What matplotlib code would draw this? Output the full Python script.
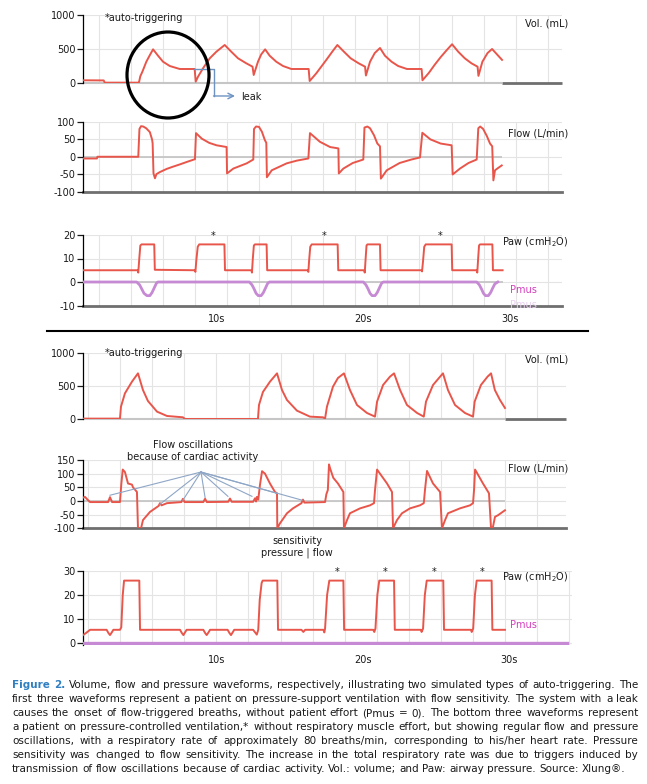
import numpy as np
import matplotlib.pyplot as plt
from matplotlib.patches import Ellipse
from matplotlib.lines import Line2D

plt.rcParams["font.family"] = ["DejaVu Sans"]
plt.rcParams["axes.unicode_minus"] = False

W, H = 647, 784
# time axis: pixel where t = 0 would sit, pixels per second
T0_PX, PX_PER_S = 70.0, 14.65

# ---------------- data (t in s, value) ----------------
# top group: pressure support, leak -> auto-triggering
vol_a = [
    (0.89, 40), (2.30, 38), (2.37, 5), (4.68, 5),
    (4.71, 10), (4.80, 100), (4.94, 166), (5.21, 313), (5.45, 410), (5.67, 495),
    (6.01, 401), (6.35, 313), (6.81, 250), (7.49, 206), (8.51, 206),
    (8.58, 20), (8.74, 93), (9.08, 216), (9.54, 363), (9.99, 460), (10.56, 559),
    (11.01, 460), (11.47, 363), (12.03, 290), (12.46, 240),
    (12.54, 118), (12.83, 313), (13.05, 420), (13.32, 495),
    (13.63, 401), (14.08, 313), (14.54, 250), (15.11, 206), (16.29, 206),
    (16.36, 29), (16.81, 142), (17.49, 338), (17.90, 460), (18.25, 559),
    (18.70, 460), (19.16, 363), (19.70, 290), (20.14, 240),
    (20.20, 110), (20.48, 313), (20.80, 440), (21.16, 515),
    (21.50, 401), (21.95, 313), (22.40, 250), (23.00, 206), (24.00, 206),
    (24.06, 40), (24.50, 150), (24.90, 270), (25.30, 380), (25.70, 480), (26.08, 570),
    (26.50, 460), (26.95, 363), (27.40, 290), (27.82, 240),
    (27.88, 105), (28.15, 313), (28.50, 440), (28.81, 500),
    (29.15, 420), (29.49, 340),
]
flow_a = [
    (0.89, -5), (1.84, -5), (1.87, 0), (4.66, 0),
    (4.74, 80), (4.85, 88), (5.00, 87), (5.20, 82), (5.45, 71), (5.60, 50), (5.64, 39),
    (5.70, -48), (5.80, -62), (5.90, -50), (6.14, -44), (6.60, -35), (7.00, -29),
    (7.50, -22), (7.97, -15), (8.53, -7),
    (8.60, 68), (9.00, 52), (9.50, 40), (10.00, 33), (10.69, 28),
    (10.72, -48), (11.15, -34), (12.06, -19), (12.51, -8),
    (12.56, 80), (12.70, 87), (12.90, 86), (13.10, 72), (13.30, 48), (13.40, 40),
    (13.44, -59), (13.77, -39), (14.79, -19), (15.50, -11), (16.27, -5),
    (16.38, 68), (17.06, 43), (17.75, 28), (18.32, 24),
    (18.35, -48), (18.66, -34), (19.30, -18), (20.02, -8),
    (20.10, 84), (20.30, 87), (20.48, 82), (20.75, 62), (20.98, 38), (21.16, 30),
    (21.22, -63), (21.62, -39), (22.50, -18), (23.30, -8), (23.89, -2),
    (24.05, 69), (24.60, 50), (25.30, 38), (26.05, 33),
    (26.12, -51), (26.62, -34), (27.20, -18), (27.76, -8),
    (27.87, 82), (28.00, 87), (28.20, 80), (28.45, 60), (28.67, 38), (28.82, 30),
    (28.90, -68), (29.01, -39), (29.20, -33), (29.47, -25),
]
paw_a = [
    (0.89, 5), (4.62, 5), (4.66, 4), (4.73, 10), (4.80, 15.5), (4.88, 16), (5.75, 16), (5.79, 5.2),
    (8.52, 5), (8.56, 4.3), (8.62, 9), (8.72, 15), (8.82, 16), (10.54, 16), (10.58, 5),
    (12.38, 5), (12.42, 4), (12.48, 10), (12.55, 15.5), (12.62, 16), (13.42, 16), (13.46, 5),
    (16.22, 5), (16.27, 4.3), (16.32, 9), (16.40, 15), (16.50, 16), (18.27, 16), (18.31, 5),
    (20.08, 5), (20.12, 4), (20.18, 10), (20.24, 15.5), (20.30, 16), (21.16, 16), (21.20, 5),
    (24.00, 5), (24.03, 4.5), (24.10, 9), (24.18, 15), (24.28, 16), (26.05, 16), (26.09, 5),
    (27.76, 5), (27.80, 4), (27.86, 10), (27.92, 15.5), (27.98, 16), (28.83, 16), (28.87, 5),
    (29.53, 5),
]
pmus_a = [
    (0.89, 0), (4.55, 0), (4.75, -1.2), (4.90, -3), (5.05, -4.8), (5.25, -5.8), (5.45, -5.8),
    (5.60, -4.5), (5.75, -2.5), (5.90, -0.5), (6.00, 0),
    (12.24, 0), (12.42, -1.2), (12.57, -3), (12.70, -4.8), (12.85, -5.8), (13.05, -5.8),
    (13.20, -4.5), (13.35, -2.5), (13.50, -0.5), (13.62, 0),
    (20.02, 0), (20.20, -1.2), (20.35, -3), (20.48, -4.8), (20.62, -5.8), (20.82, -5.8),
    (20.97, -4.5), (21.12, -2.5), (21.27, -0.5), (21.39, 0),
    (27.76, 0), (27.94, -1.2), (28.09, -3), (28.22, -4.8), (28.36, -5.8), (28.56, -5.8),
    (28.71, -4.5), (28.86, -2.5), (29.00, -0.8), (29.20, 0),
]
auto_trig_a = [9.76, 17.34, 25.26]

# bottom group: pressure control, cardiac oscillations -> auto-triggering
vol_b = [
    (0.89, 10), (3.41, 10), (3.48, 190), (3.75, 390), (4.23, 565), (4.64, 690),
    (4.98, 440), (5.32, 275), (5.94, 115), (6.62, 50), (7.71, 30), (7.85, 5),
    (12.83, 5), (12.90, 215), (13.17, 410), (13.65, 565), (14.13, 690),
    (14.47, 440), (14.81, 290), (15.49, 130), (16.38, 40), (17.27, 30), (17.41, 10),
    (17.54, 190), (17.95, 490), (18.29, 620), (18.70, 690),
    (19.11, 440), (19.59, 215), (20.27, 95), (20.82, 40),
    (20.96, 265), (21.37, 515), (21.84, 640), (22.12, 690),
    (22.53, 440), (23.00, 215), (23.69, 95), (24.15, 40),
    (24.30, 265), (24.78, 515), (25.26, 640), (25.46, 690),
    (25.80, 440), (26.28, 215), (26.96, 95), (27.51, 40),
    (27.62, 265), (28.05, 515), (28.50, 640), (28.74, 690),
    (29.00, 440), (29.35, 290), (29.69, 170),
]
flow_b = [
    (0.89, 12), (1.02, 15), (1.23, 3), (1.37, -4), (2.60, -4), (2.73, 14), (2.87, -4), (3.41, -4),
    (3.50, 60), (3.60, 115), (3.75, 106), (3.96, 64), (4.23, 60), (4.30, 50), (4.57, 33),
    (4.64, -100), (4.85, -100), (4.98, -70), (5.46, -40), (6.05, -18), (6.14, -8), (6.25, -16),
    (6.62, -8), (7.60, -4), (7.71, 8), (7.82, -4), (9.10, -4), (9.22, 8), (9.34, -4),
    (10.80, -3), (10.92, 9), (11.04, -3), (12.50, -3), (12.63, 10), (12.70, -2), (12.76, 15), (12.85, 5),
    (12.97, 60), (13.11, 109), (13.31, 100), (13.65, 64), (13.99, 33), (14.13, 28),
    (14.15, -100), (14.33, -82), (14.81, -45), (15.22, -27), (15.80, -8), (15.90, 5), (16.00, -6),
    (17.41, -4), (17.50, 25), (17.60, 40), (17.68, 134), (17.75, 120), (17.97, 85), (18.29, 64),
    (18.66, 33), (18.70, -100), (18.91, -70), (19.11, -45), (19.80, -27), (20.48, -16), (20.75, -8),
    (20.82, 40), (20.96, 115), (21.16, 100), (21.64, 64), (21.98, 33),
    (22.05, -100), (22.32, -70), (22.66, -45), (23.21, -27), (23.89, -16), (24.15, -8),
    (24.23, 40), (24.37, 110), (24.78, 64), (25.26, 33),
    (25.39, -100), (25.60, -70), (25.80, -45), (26.62, -27), (27.30, -16), (27.51, -8),
    (27.58, 40), (27.65, 115), (28.19, 64), (28.60, 28),
    (28.74, -100), (28.87, -95), (29.01, -58), (29.22, -52), (29.69, -34),
]
paw_b = [
    (0.89, 3.3), (1.10, 4.2), (1.37, 5.5), (2.50, 5.5), (2.62, 4.2), (2.73, 3.3), (2.85, 4.4),
    (2.96, 5.5), (3.41, 5.5), (3.50, 6.5), (3.60, 20), (3.69, 26), (4.73, 26), (4.78, 5.5),
    (7.51, 5.5), (7.63, 4.2), (7.74, 3.3), (7.85, 4.4), (7.96, 5.5),
    (9.10, 5.5), (9.22, 4.2), (9.33, 3.3), (9.45, 4.4), (9.56, 5.5),
    (10.76, 5.5), (10.88, 4.2), (10.99, 3.3), (11.10, 4.4), (11.21, 5.5),
    (12.50, 5.5), (12.65, 4.3), (12.75, 3.5), (12.85, 5.5), (12.95, 18), (13.08, 25), (13.15, 26),
    (14.15, 26), (14.20, 5.5),
    (15.80, 5.5), (15.93, 4.6), (16.05, 5.5),
    (17.30, 5.5), (17.36, 4.4), (17.41, 6), (17.55, 20), (17.70, 26), (18.66, 26), (18.71, 5.5),
    (20.70, 5.5), (20.77, 4.6), (20.85, 6), (20.98, 20), (21.11, 26), (22.12, 26), (22.17, 5.5),
    (23.95, 5.5), (24.00, 4.6), (24.10, 6), (24.22, 20), (24.35, 26), (25.48, 26), (25.53, 5.5),
    (27.37, 5.5), (27.42, 4.6), (27.52, 6), (27.64, 20), (27.76, 26), (28.78, 26), (28.83, 5.5),
    (29.69, 5.5),
]
pmus_b = [(0.89, 0), (33.9, 0)]
auto_trig_b = [18.23, 21.50, 24.85, 28.12]

# cardiac oscillation points the annotation fans out to (t, flow)
cardiac_pts = [(2.73, 21), (6.14, -12), (7.71, 3), (9.22, 13), (10.78, 17),
               (12.42, 17), (14.13, 28), (15.84, 3)]

yticks_vol = [0, 500, 1000]
yticks_flow_a = [-100, -50, 0, 50, 100]
yticks_flow_b = [-100, -50, 0, 50, 100, 150]
yticks_paw_a = [-10, 0, 10, 20]
yticks_paw_b = [0, 10, 20, 30]
time_ticks = [10, 20, 30]
time_labels = ["10s", "20s", "30s"]

caption_lines = [
    "Figure 2. Volume, flow and pressure waveforms, respectively, illustrating two simulated types of auto-triggering. The",
    "first three waveforms represent a patient on pressure-support ventilation with flow sensitivity. The system with a leak",
    "causes the onset of flow-triggered breaths, without patient effort (Pmus = 0). The bottom three waveforms represent",
    "a patient on pressure-controlled ventilation,* without respiratory muscle effort, but showing regular flow and pressure",
    "oscillations, with a respiratory rate of approximately 80 breaths/min, corresponding to his/her heart rate. Pressure",
    "sensitivity was changed to flow sensitivity. The increase in the total respiratory rate was due to triggers induced by",
    "transmission of flow oscillations because of cardiac activity. Vol.: volume; and Paw: airway pressure. Source: Xlung®.",
]

RED = "#e8564b"
PURPLE = "#c68ad4"
MAGENTA = "#d43ebd"
BLUE = "#6d93c2"
GRID = "#e4e4e4"
ZERO = "#c6c6c6"
DARK = "#6f6f6f"
TXT = "#1a1a1a"
FS = 7
CAP_FONT = ["DejaVu Sans Condensed", "DejaVu Sans"]


def t_of(x):
    return (x - T0_PX) / PX_PER_S


def fx(x):
    return x / W


def fy(y):
    return 1 - y / H


fig = plt.figure(figsize=(W / 100, H / 100), dpi=100)


def panel(left, top, right, bottom, ylim, yticks, grid_start):
    ax = fig.add_axes([fx(left), fy(bottom), (right - left) / W, (bottom - top) / H])
    ax.set_xlim(t_of(left), t_of(right))
    ax.set_ylim(*ylim)
    for s in ["top", "right", "bottom"]:
        ax.spines[s].set_visible(False)
    ax.spines["left"].set_linewidth(0.9)
    ax.set_yticks(yticks)
    ax.tick_params(axis="y", length=4, width=0.9, labelsize=FS, pad=1.5,
                   colors=TXT)
    ax.set_xticks([])
    ax.patch.set_alpha(0)
    for x in np.arange(grid_start, right, 32.1):
        ax.axvline(t_of(x), color=GRID, lw=0.8, zorder=0)
    for y in yticks:
        ax.axhline(y, color=GRID, lw=0.8, zorder=0)
    return ax


def trace(ax, pts, color=RED, lw=1.4, **kw):
    a = np.array(pts, dtype=float)
    ax.plot(a[:, 0], a[:, 1], color=color, lw=lw, solid_joinstyle="round", zorder=3, **kw)
    return a[-1, 0]


def base(ax, y, t_end, right_t):
    # light gray under the trace, dark gray where the trace has ended
    ax.hlines(y, ax.get_xlim()[0], t_end, color=ZERO, lw=1.5, zorder=1, clip_on=False)
    ax.hlines(y, t_end, right_t, color=DARK, lw=2, zorder=1, clip_on=False)


def time_axis(ax, pad):
    ax.set_xticks(time_ticks)
    ax.set_xticklabels(time_labels)
    ax.tick_params(axis="x", length=0, pad=pad, labelsize=FS, colors=TXT)


# ---------------- top group ----------------
ax1 = panel(83, 15, 562, 83, (0, 1000), yticks_vol, 98.5)
end = trace(ax1, vol_a)
base(ax1, 0, end, ax1.get_xlim()[1])

ax2 = panel(83, 122, 562, 191.5, (-100, 100), yticks_flow_a, 98.5)
end = trace(ax2, flow_a)
ax2.hlines(0, ax2.get_xlim()[0], end, color=ZERO, lw=1.3, zorder=1)
ax2.axhline(-100, color=DARK, lw=2, zorder=1, clip_on=False)

ax3 = panel(83, 235, 562, 305.5, (-10, 20), yticks_paw_a, 98.5)
end = trace(ax3, paw_a)
ax3.hlines(0, ax3.get_xlim()[0], end, color=ZERO, lw=1.3, zorder=1)
trace(ax3, pmus_a, color=PURPLE, lw=2)
ax3.axhline(-10, color=DARK, lw=2, zorder=1, clip_on=False)
for t in auto_trig_a:
    ax3.text(t, 18.3, "*", ha="center", va="baseline", fontsize=FS, color=TXT)
time_axis(ax3, 6)

# circle around the first auto-triggered breath, leak arrow
fig.add_artist(Ellipse((fx(168), fy(75)), 82 / W, 86 / H, transform=fig.transFigure,
                       fill=False, lw=2.3, ec="black", zorder=10))
ax1.plot([t_of(194), t_of(213.5), t_of(213.5)], [206, 206, -191], color=BLUE,
         lw=1.0, clip_on=False, zorder=4)
ax1.annotate("", xy=(t_of(235), -191), xytext=(t_of(213.5), -191),
             arrowprops=dict(arrowstyle="->", color=BLUE, lw=1.0,
                             shrinkA=0, shrinkB=0), annotation_clip=False)
fig.text(fx(241), fy(97), "leak", fontsize=FS, color=TXT, va="center")

# ---------------- bottom group ----------------
ax4 = panel(83, 352.7, 566, 419.3, (0, 1000), yticks_vol, 88)
end = trace(ax4, vol_b)
base(ax4, 0, end, ax4.get_xlim()[1])

ax5 = panel(83, 460, 566, 528.3, (-100, 150), yticks_flow_b, 88)
end = trace(ax5, flow_b)
ax5.hlines(0, ax5.get_xlim()[0], end, color=ZERO, lw=1.3, zorder=1)
ax5.axhline(-100, color=DARK, lw=2, zorder=1, clip_on=False)

ax6 = panel(83, 571, 572, 645.4, (-1, 30), yticks_paw_b, 88)
trace(ax6, paw_b)
trace(ax6, pmus_b, color=PURPLE, lw=2.4)
ax6.set_xlim(t_of(83), t_of(572))
for t in auto_trig_b:
    ax6.text(t, 28.3, "*", ha="center", va="baseline", fontsize=FS, color=TXT)
time_axis(ax6, 7)

# fan of lines to the cardiac oscillations
apex = (t_of(201), 106)
for t, v in cardiac_pts:
    ax5.plot([apex[0], t], [apex[1], v], color="#8ea6c6", lw=0.8, zorder=4,
             clip_on=False)

# ---------------- labels ----------------
for y, s in [(23, "Vol. (mL)"), (133, "Flow (L/min)"), (242, "Paw (cmH$_2$O)"),
             (359, "Vol. (mL)"), (468, "Flow (L/min)"), (577, "Paw (cmH$_2$O)")]:
    fig.text(fx(568), fy(y), s, fontsize=FS, color=TXT, ha="right", va="center")
for y in [18, 353]:
    fig.text(fx(105), fy(y), "*auto-triggering", fontsize=FS, color=TXT, va="center")
fig.text(fx(510), fy(290), "Pmus", fontsize=FS, color=MAGENTA, va="center")
fig.text(fx(510), fy(305), "Pmus", fontsize=FS, color="#ead0ef", va="center")
fig.text(fx(510), fy(625), "Pmus", fontsize=FS, color=MAGENTA, va="center")
fig.text(fx(193), fy(451), "Flow oscillations\nbecause of cardiac activity", fontsize=FS,
         color=TXT, ha="center", va="center", linespacing=1.3)
fig.text(fx(297), fy(547), "sensitivity\npressure | flow", fontsize=FS,
         color=TXT, ha="center", va="center", linespacing=1.3)

fig.add_artist(Line2D([fx(47), fx(588)], [fy(331), fy(331)], color="black", lw=1.5))

# ---------------- caption (justified) ----------------
r = fig.canvas.get_renderer()


def text_w(s, size, bold=False):
    t = fig.text(0, 0, s, fontsize=size, family=CAP_FONT,
                 weight="bold" if bold else "normal")
    w = t.get_window_extent(renderer=r).width
    t.remove()
    return w


left_px, right_px = 12, 638
cap_y0, cap_dy = 685, 14.0


def natural(size):
    widest = 0
    sp = text_w("a a", size) - text_w("aa", size)
    for i, ln in enumerate(caption_lines):
        words = ln.split(" ")
        w = sum(text_w(wd, size, i == 0 and j < 2) for j, wd in enumerate(words))
        widest = max(widest, w + sp * (len(words) - 1))
    return widest


size = 8.0
nat = natural(size)
size = size * (right_px - left_px - 6) / nat

space = text_w("a a", size) - text_w("aa", size)
for i, ln in enumerate(caption_lines):
    words = ln.split(" ")
    bold = [i == 0 and j < 2 for j in range(len(words))]
    widths = [text_w(w, size, b) for w, b in zip(words, bold)]
    if i < len(caption_lines) - 1:
        gap = (right_px - left_px - sum(widths)) / (len(words) - 1)
    else:
        gap = space
    x = left_px
    y = cap_y0 + cap_dy * i
    for w, b, wd in zip(words, bold, widths):
        fig.text(fx(x), fy(y), w, fontsize=size, va="center", family=CAP_FONT,
                 weight="bold" if b else "normal",
                 color="#2f7fc1" if b else TXT)
        x += wd + gap

fig.savefig("out.png", dpi=100)
